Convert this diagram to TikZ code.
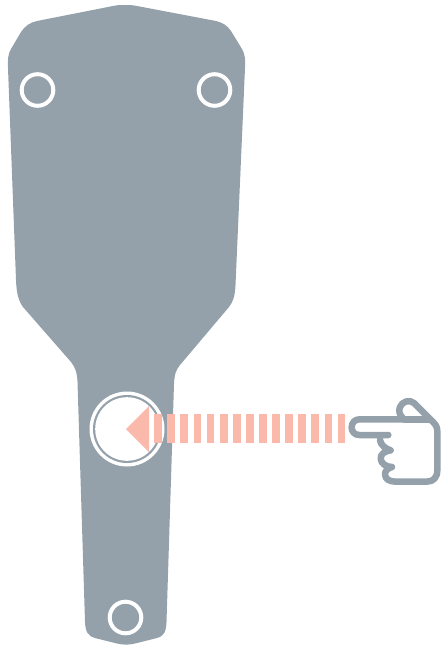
\documentclass[tikz,border=0pt]{standalone}
\definecolor{paddle}{HTML}{94A1AA}
\definecolor{salmon}{HTML}{FBB9AC}
\tikzset{ringw/.style={draw=white,line width=4pt,fill=none},
 stripe/.style={fill=salmon,draw=none},
 handline/.style={draw=paddle,line width=6.5pt,line cap=round,line join=round}}
\begin{document}
\begin{tikzpicture}[x=1pt,y=-1pt]
\useasboundingbox (0,0) rectangle (440,645);
% paddle
\fill[paddle] (125,5) .. controls (120,5) and (118,5) .. (113,6)
 -- (37,21) .. controls (30,22.5) and (25,26) .. (21,32)
 -- (11,49) .. controls (8,54) and (7.5,60) .. (8,68)
 -- (16,280) .. controls (16.5,292) and (18,300) .. (23,307)
 -- (71,362) .. controls (75,367) and (77,372) .. (77.5,382)
 -- (85,622) .. controls (85.5,632) and (88,636) .. (95,638)
 -- (117,643.5) .. controls (123,645) and (129,645) .. (135,643.5)
 -- (157,638) .. controls (164,636) and (166,632) .. (166.5,622)
 -- (174,384) .. controls (174.5,374) and (176,370) .. (180,365)
 -- (229,307) .. controls (233,302) and (235,296) .. (235.5,285)
 -- (245,68) .. controls (245.5,60) and (245,54) .. (242,49)
 -- (231,31) .. controls (227,25) and (222,22.5) .. (216,21)
 -- (137,6) .. controls (132,5) and (130,5) .. (125,5) -- cycle;
% small rings
\draw[ringw] (37.5,90) circle[radius=15.8];
\draw[ringw] (214.5,90) circle[radius=15.8];
\draw[ringw] (125.5,617.5) circle[radius=15.8];
% big ring
\fill[white] (127,429) circle[radius=37.5];
\fill[paddle] (127,429) circle[radius=34];
\fill[white] (127,429) circle[radius=31.8];
% arrow
\fill[salmon] (126,429) -- (149,406) -- (149,452) -- cycle;
\foreach \i in {0,...,14}{
  \fill[stripe] ({154.2+13.1*\i},414.3) rectangle ({162+13.1*\i},442.5);
}
% hand
\begin{scope}[shift={(330,385)},x=0.3333pt,y=-0.3333pt]
\draw[handline] (175,150) -- (88,150) .. controls (72,150) and (65,138) .. (65,127)
  .. controls (65,114) and (74,103) .. (88,103) -- (222,103)
  .. controls (208,90) and (205,78) .. (210,66)
  .. controls (216,50) and (238,42) .. (252,54)
  -- (310,112) .. controls (319,121) and (322,128) .. (322,140)
  -- (322,255) .. controls (322,278) and (310,290) .. (290,290)
  -- (197,290) .. controls (178,290) and (165,282) .. (165,268)
  .. controls (165,258) and (172,250) .. (186,246)
  .. controls (168,246) and (152,235) .. (152,220)
  .. controls (152,207) and (165,198) .. (182,196)
  .. controls (165,190) and (152,180) .. (150,165);
\draw[handline] (222,103) -- (298,103);
\end{scope}
\end{tikzpicture}
\end{document}
